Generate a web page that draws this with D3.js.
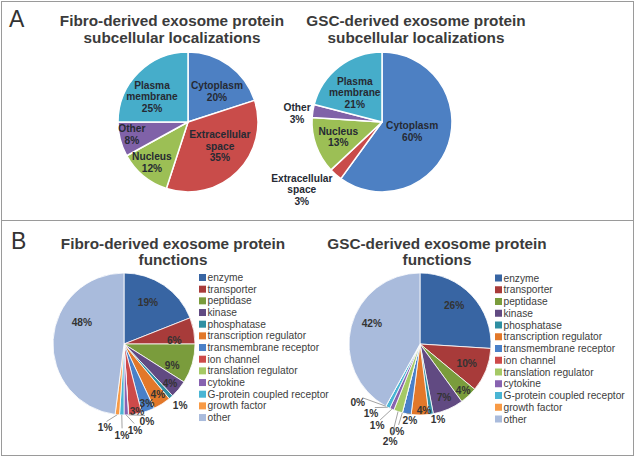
<!DOCTYPE html>
<html><head><meta charset="utf-8">
<script src="https://cdn.jsdelivr.net/npm/d3@7"></script>
<style>
body{margin:0;background:#fff}
svg{display:block;font-family:"Liberation Sans",Arial,Helvetica,sans-serif}
</style>
</head><body>
<svg id="chart" width="635" height="457"></svg>
<script>
// ---------- DATA ----------
const locCategories = ["Cytoplasm", "Extracellular space", "Nucleus", "Other", "Plasma membrane"];
const locLabelLines = [["Cytoplasm"], ["Extracellular", "space"], ["Nucleus"], ["Other"], ["Plasma", "membrane"]];
const fibroLocValues = [20, 35, 12, 8, 25];
const gscLocValues = [60, 3, 13, 3, 21];

const funcCategories = ["enzyme", "transporter", "peptidase", "kinase", "phosphatase",
  "transcription regulator", "transmembrane receptor", "ion channel", "translation regulator",
  "cytokine", "G-protein coupled receptor", "growth factor", "other"];
const fibroFuncValues = [19, 6, 9, 4, 1, 4, 3, 3, 0, 1, 1, 1, 48];
const gscFuncValues = [26, 10, 4, 7, 1, 4, 2, 0, 2, 1, 1, 0, 42];

const titleFibroLoc = ["Fibro-derived exosome protein", "subcellular localizations"];
const titleGscLoc = ["GSC-derived exosome protein", "subcellular localizations"];
const titleFibroFunc = ["Fibro-derived exosome protein", "functions"];
const titleGscFunc = ["GSC-derived exosome protein", "functions"];

// ---------- STYLE / LAYOUT ----------
const locColors = ["#4d80c3", "#c94c4a", "#9cbf55", "#8062a8", "#46adca"];
const funcColors = ["#3865a3", "#a83b3a", "#7a9c3c", "#614a82", "#2f8fa2", "#e2782a",
  "#4a80c8", "#cd4a4a", "#a5c965", "#8762b0", "#4ab5d4", "#f89a45", "#a9bbdc"];

// label placement: [angle in degrees (clockwise from top), radius factor, leader line]
const fibroLocLabelPos = [[43.6, .60], [126.9, .57], [222, .77], [257.9, .82], [305.3, .63]];
const gscLocLabelPos = [[106.7, .45], [229.8, 1.50], [251.2, .66], [276, 1.22], [317, .57]];
const fibroFuncLabelPos = [[29.7, .68], [85.4, .71], [113.6, .74], [130.3, .85], [137.4, 1.17],
  [146.3, .86], [158.7, .89], [169, .96], [163.6, 1.14, 1], [172.7, 1.22, 1], [181.3, 1.28, 1],
  [192.7, 1.21, 1], [297.6, .67]];
const gscFuncLabelPos = [[41.1, .73], [112, .71], [136.9, .89], [155.6, .82], [166.5, 1.09],
  [176.5, .93], [187.5, 1.08, 1], [194.8, 1.27, 1], [197, 1.44, 1], [207.7, 1.30, 1],
  [215.4, 1.19, 1], [226.9, 1.2, 1], [293.6, .74]];

const svg = d3.select("#chart");
const TXT = "#3b3b3b";

// frame
svg.append("rect").attr("x", 1.5).attr("y", 1.5).attr("width", 632).attr("height", 454)
  .attr("fill", "none").attr("stroke", "#9a9a9a").attr("stroke-width", 1);
svg.append("line").attr("x1", 1.5).attr("x2", 633.5).attr("y1", 220.5).attr("y2", 220.5)
  .attr("stroke", "#9a9a9a").attr("stroke-width", 1);

// panel letters
svg.append("text").attr("x", 9).attr("y", 27).attr("font-size", 23).attr("fill", "#333").text("A");
svg.append("text").attr("x", 11).attr("y", 249).attr("font-size", 23).attr("fill", "#333").text("B");

function title(lines, cx, y0, lh) {
  const t = svg.append("text").attr("text-anchor", "middle").attr("font-weight", "bold")
    .attr("font-size", 15.3).attr("fill", TXT);
  lines.forEach((l, i) => t.append("tspan").attr("x", cx).attr("y", y0 + i * lh).text(l));
}
title(titleFibroLoc, 172, 26, 17);
title(titleGscLoc, 416, 26, 17);
title(titleFibroFunc, 173, 249, 15.5);
title(titleGscFunc, 437, 249, 15.5);

function polar(cx, cy, a, r) { return [cx + r * Math.sin(a), cy - r * Math.cos(a)]; }

function drawPie(opts) {
  const {cx, cy, r, values, colors, labelPos, labelLines, stroke, labelColor} = opts;
  const pie = d3.pie().sort(null).value(d => d)(values);
  const arc = d3.arc().innerRadius(0).outerRadius(r);
  const g = svg.append("g").attr("transform", `translate(${cx},${cy})`);
  g.selectAll("path").data(pie).join("path")
    .attr("d", arc).attr("fill", (d, i) => colors[i])
    .attr("stroke", "#fff").attr("stroke-width", stroke).attr("stroke-linejoin", "round");

  pie.forEach((d, i) => {
    const [deg, rf, leader] = labelPos[i];
    const a = deg * Math.PI / 180;
    const [lx, ly] = polar(cx, cy, a, rf * r);
    if (leader) {
      const mid = (d.startAngle + d.endAngle) / 2;
      const [ex, ey] = polar(cx, cy, mid, r);
      const [sx, sy] = polar(cx, cy, a, rf * r - 6.5);
      svg.append("line").attr("x1", sx).attr("y1", sy).attr("x2", ex).attr("y2", ey)
        .attr("stroke", "#8a8a8a").attr("stroke-width", 0.8);
    }
    const lines = (labelLines ? labelLines[i] : []).concat([Math.round(values[i]) + "%"]);
    const lh = 11.6;
    const t = svg.append("text").attr("text-anchor", "middle").attr("font-weight", "bold")
      .attr("font-size", 10.2).attr("fill", labelColor);
    lines.forEach((l, k) => t.append("tspan").attr("x", lx)
      .attr("y", ly + (k - (lines.length - 1) / 2) * lh).attr("dy", "0.36em").text(l));
  });
}

drawPie({cx: 188, cy: 122, r: 70, values: fibroLocValues, colors: locColors,
  labelPos: fibroLocLabelPos, labelLines: locLabelLines, stroke: 1.5, labelColor: "#262a33"});
drawPie({cx: 382, cy: 122, r: 70, values: gscLocValues, colors: locColors,
  labelPos: gscLocLabelPos, labelLines: locLabelLines, stroke: 1.5, labelColor: "#262a33"});
drawPie({cx: 124, cy: 344, r: 71, values: fibroFuncValues, colors: funcColors,
  labelPos: fibroFuncLabelPos, labelLines: null, stroke: 0.8, labelColor: "#333"});
drawPie({cx: 420, cy: 344, r: 71, values: gscFuncValues, colors: funcColors,
  labelPos: gscFuncLabelPos, labelLines: null, stroke: 0.8, labelColor: "#333"});

function legend(x, y0, step) {
  const y = d3.scalePoint().domain(funcCategories).range([y0, y0 + step * (funcCategories.length - 1)]);
  const g = svg.append("g");
  funcCategories.forEach((c, i) => {
    g.append("rect").attr("x", x).attr("y", y(c) - 3.5).attr("width", 7).attr("height", 7)
      .attr("fill", funcColors[i]);
    g.append("text").attr("x", x + 8.5).attr("y", y(c)).attr("dy", "0.35em")
      .attr("font-size", 10.2).attr("fill", "#404040").text(c);
  });
}
legend(199, 277.5, 11.67);
legend(495, 278, 11.75);
</script>
</body></html>
